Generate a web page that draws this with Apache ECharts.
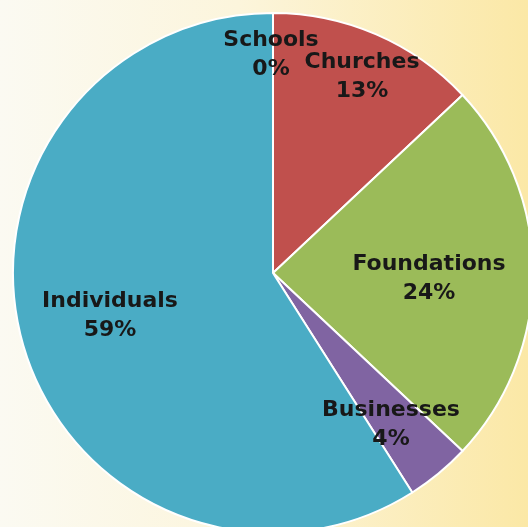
<!DOCTYPE html>
<html>
<head>
<meta charset="utf-8">
<script src="https://cdn.jsdelivr.net/npm/echarts@6/dist/echarts.min.js"></script>
<style>
  html, body { margin: 0; padding: 0; }
  #chart { width: 528px; height: 527px; }
</style>
</head>
<body>
<div id="chart"></div>
<script>
// data (share of funding, %)
const categories = ['Schools', 'Churches', 'Foundations', 'Businesses', 'Individuals']
const shares = [0, 13, 24, 4, 59]
const sliceColors = ['#4aacc5', '#c0504d', '#9bbb59', '#8064a2', '#4aacc5']
// where each label block sits (centre, px)
const labelPos = [[271, 55], [362, 77], [429, 279], [391, 425], [110, 316]]

const chart = echarts.init(document.getElementById('chart'))

const option = {
  backgroundColor: new echarts.graphic.LinearGradient(0, 0, 1, 0, [
    { offset: 0, color: '#fbfaf2' },
    { offset: 0.45, color: '#fcf5dc' },
    { offset: 1, color: '#fbe8a6' }
  ]),
  animation: false,
  series: [{
    type: 'pie',
    center: [273, 273],
    radius: 260,
    startAngle: 90,
    clockwise: true,
    minShowLabelAngle: 0,
    avoidLabelOverlap: false,
    itemStyle: {
      borderColor: '#ffffff',
      borderWidth: 2
    },
    label: {
      show: true,
      position: 'inside',
      formatter: '{b}\n{d}%',
      color: '#181818',
      fontFamily: 'DejaVu Sans',
      fontWeight: 'bold',
      fontSize: 22,
      lineHeight: 29,
      align: 'center'
    },
    labelLine: { show: false },
    labelLayout(params) {
      const p = labelPos[params.dataIndex]
      return { x: p[0], y: p[1], align: 'center', verticalAlign: 'middle' }
    },
    data: categories.map((name, i) => ({
      name: name,
      value: shares[i],
      itemStyle: { color: sliceColors[i] }
    }))
  }]
}

chart.setOption(option)
</script>
</body>
</html>
